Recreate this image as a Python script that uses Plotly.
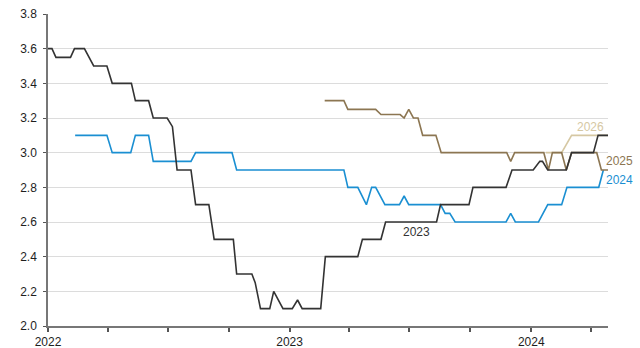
import plotly.graph_objects as go

# Forecast path for each target year (vertices of the weekly consensus path)
dates_2023 = ["2022-01-01", "2022-01-07", "2022-01-13", "2022-02-04", "2022-02-10", "2022-02-25",
              "2022-03-11", "2022-03-31", "2022-04-08", "2022-05-07", "2022-05-13", "2022-06-02",
              "2022-06-09", "2022-06-30", "2022-07-08", "2022-07-15", "2022-08-05", "2022-08-12",
              "2022-09-01", "2022-09-09", "2022-10-08", "2022-10-13", "2022-11-05", "2022-11-10",
              "2022-11-18", "2022-12-02", "2022-12-08", "2022-12-22", "2023-01-05", "2023-01-13",
              "2023-01-20", "2023-02-17", "2023-02-24", "2023-04-14", "2023-04-21", "2023-05-19",
              "2023-05-26", "2023-08-11", "2023-08-17", "2023-09-29", "2023-10-05", "2023-11-24",
              "2023-12-03", "2024-01-04", "2024-01-14", "2024-01-18", "2024-01-26", "2024-02-23",
              "2024-03-02", "2024-04-04", "2024-04-11", "2024-04-26"]
values_2023 = [3.6, 3.6, 3.55, 3.55, 3.6, 3.6,
               3.5, 3.5, 3.4, 3.4, 3.3, 3.3,
               3.2, 3.2, 3.15, 2.9, 2.9, 2.7,
               2.7, 2.5, 2.5, 2.3, 2.3, 2.25,
               2.1, 2.1, 2.2, 2.1, 2.1, 2.15,
               2.1, 2.1, 2.4, 2.4, 2.5, 2.5,
               2.6, 2.6, 2.7, 2.7, 2.8, 2.8,
               2.9, 2.9, 2.95, 2.95, 2.9, 2.9,
               3.0, 3.0, 3.1, 3.1]

dates_2024 = ["2022-02-11", "2022-03-31", "2022-04-08", "2022-05-06", "2022-05-13", "2022-06-02",
              "2022-06-09", "2022-08-05", "2022-08-12", "2022-10-06", "2022-10-13", "2023-03-24",
              "2023-03-30", "2023-04-14", "2023-04-27", "2023-05-05", "2023-05-11", "2023-05-25",
              "2023-06-16", "2023-06-23", "2023-06-30", "2023-08-17", "2023-08-24", "2023-08-31",
              "2023-09-08", "2023-11-24", "2023-12-01", "2023-12-08", "2024-01-12", "2024-01-26",
              "2024-02-16", "2024-02-24", "2024-04-12", "2024-04-19"]
values_2024 = [3.1, 3.1, 3.0, 3.0, 3.1, 3.1,
               2.95, 2.95, 3.0, 3.0, 2.9, 2.9,
               2.8, 2.8, 2.7, 2.8, 2.8, 2.7,
               2.7, 2.75, 2.7, 2.7, 2.65, 2.65,
               2.6, 2.6, 2.65, 2.6, 2.6, 2.7,
               2.7, 2.8, 2.8, 2.9]

dates_2025 = ["2023-02-23", "2023-03-24", "2023-03-30", "2023-05-11", "2023-05-19", "2023-06-17",
              "2023-06-23", "2023-06-30", "2023-07-07", "2023-07-14", "2023-07-21", "2023-08-10",
              "2023-08-18", "2023-11-25", "2023-12-01", "2023-12-07", "2024-01-20", "2024-01-27",
              "2024-02-02", "2024-02-16", "2024-02-23", "2024-03-02", "2024-04-09", "2024-04-16",
              "2024-04-26"]
values_2025 = [3.3, 3.3, 3.25, 3.25, 3.22, 3.22,
               3.2, 3.25, 3.2, 3.2, 3.1, 3.1,
               3.0, 3.0, 2.95, 3.0, 3.0, 2.9,
               3.0, 3.0, 2.9, 3.0, 3.0, 2.9,
               2.9]

dates_2026 = ["2024-01-23", "2024-02-16", "2024-03-02", "2024-04-26"]
values_2026 = [3.0, 3.0, 3.1, 3.1]

y_ticks = [2.0, 2.2, 2.4, 2.6, 2.8, 3.0, 3.2, 3.4, 3.6, 3.8]
quarter_ticks = ["2022-01-01", "2022-04-01", "2022-07-01", "2022-10-01",
                 "2023-01-01", "2023-04-01", "2023-07-01", "2023-10-01",
                 "2024-01-01", "2024-04-01"]
quarter_text = ["2022", "", "", "", "2023", "", "", "", "2024", ""]

COL_2023 = "#333333"
COL_2024 = "#1a8fd2"
COL_2025 = "#8c7652"
COL_2026 = "#d6c8a3"

fig = go.Figure()
series = [
    (dates_2026, values_2026, COL_2026),
    (dates_2024, values_2024, COL_2024),
    (dates_2025, values_2025, COL_2025),
    (dates_2023, values_2023, COL_2023),
]
for xs, ys, col in series:
    fig.add_trace(go.Scatter(x=xs, y=ys, mode="lines",
                             line=dict(color=col, width=1.6), showlegend=False))

font = dict(family="Liberation Sans, Arial, sans-serif", size=12)

labels = [
    ("2026", 0.968, 3.15, COL_2026, "center"),
    ("2025", 0.992, 2.95, COL_2025, "left"),
    ("2024", 0.992, 2.84, COL_2024, "left"),
]
for txt, xp, yv, col, anchor in labels:
    fig.add_annotation(text=txt, xref="paper", x=xp, yref="y", y=yv,
                       xanchor=anchor, yanchor="middle", showarrow=False,
                       font=dict(font, color=col))
fig.add_annotation(text="2023", xref="x", x="2023-07-11", yref="y", y=2.54,
                   xanchor="center", yanchor="middle", showarrow=False,
                   font=dict(font, color=COL_2023))

fig.update_layout(
    width=640, height=348,
    margin=dict(l=48, r=32, t=14, b=22),
    paper_bgcolor="white", plot_bgcolor="white",
    font=dict(font, color="#1e1e1e"),
    xaxis=dict(
        type="date", range=["2022-01-01", "2024-04-26"],
        tickvals=quarter_ticks, ticktext=quarter_text,
        ticks="outside", ticklen=4, tickcolor="#555555", tickwidth=1.5,
        showline=True, linecolor="#777777", linewidth=1.5,
        showgrid=False, zeroline=False, automargin=False,
    ),
    yaxis=dict(
        range=[2.0, 3.8], tickvals=y_ticks, tickformat=".1f",
        ticks="outside", ticklen=3, tickcolor="#555555",
        ticklabelstandoff=4,
        showline=True, linecolor="#777777", linewidth=1.5,
        showgrid=True, gridcolor="#dcdcdc", gridwidth=1, zeroline=False,
        automargin=False,
    ),
)

fig.write_html("out.html")
